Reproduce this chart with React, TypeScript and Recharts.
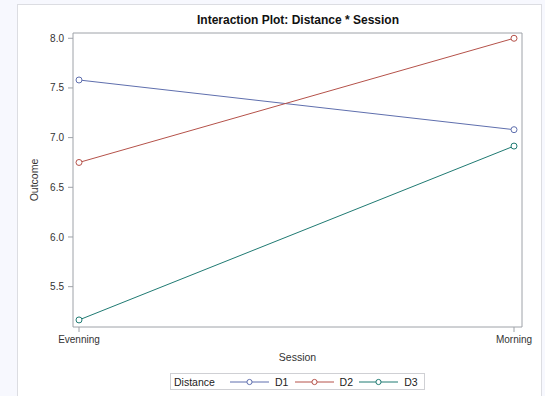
import React from 'react';
import { LineChart, Line, XAxis, YAxis } from 'recharts';

// Session levels on the x axis
const sessions = ['Evenning', 'Morning'];
// Mean outcome per distance group, in session order
const d1 = [7.58, 7.08];
const d2 = [6.75, 8.0];
const d3 = [5.165, 6.915];
const yTicks = [5.5, 6.0, 6.5, 7.0, 7.5, 8.0];

const series = [
  { key: 'D1', values: d1, color: '#5f6fae' },
  { key: 'D2', values: d2, color: '#b5524a' },
  { key: 'D3', values: d3, color: '#1f7a72' },
];

const data = sessions.map((s, i) => ({
  session: s,
  D1: d1[i],
  D2: d2[i],
  D3: d3[i],
}));

const FONT = '"Liberation Sans", Arial, sans-serif';
const AXIS = '#9ea2a8';
const Y_DOMAIN: [number, number] = [5.094, 8.053];

const LegendSwatch = ({ color }: { color: string }) => (
  <svg width={39} height={10} style={{ display: 'block' }}>
    <line x1={0} y1={5} x2={39} y2={5} stroke={color} strokeWidth={1} />
    <circle cx={19.5} cy={5} r={2.6} fill="#fff" stroke={color} strokeWidth={1} />
  </svg>
);

const OutcomeLabel = (props: any) => {
  const vb = props.viewBox || {};
  const cx = 34;
  const cy = vb.y + vb.height / 2;
  return (
    <text
      x={cx}
      y={cy}
      transform={`rotate(-90 ${cx} ${cy})`}
      textAnchor="middle"
      dominantBaseline="central"
      fontSize={10.5}
      fill="#333"
      fontFamily={FONT}
    >
      Outcome
    </text>
  );
};

const SessionLabel = (props: any) => {
  const vb = props.viewBox || {};
  return (
    <text
      x={vb.x + vb.width / 2}
      y={361}
      textAnchor="middle"
      fontSize={10.5}
      fill="#333"
      fontFamily={FONT}
    >
      Session
    </text>
  );
};

export default function App() {
  return (
    <div
      style={{
        position: 'absolute',
        left: 0,
        top: 0,
        width: 545,
        height: 396,
        background: '#f7f8fe',
        overflow: 'hidden',
        fontFamily: FONT,
      }}
    >
      <div
        style={{
          position: 'absolute',
          left: 17,
          top: 4,
          width: 525,
          height: 400,
          background: '#fff',
          border: '1px solid #dcdde2',
          boxSizing: 'border-box',
        }}
      />
      <div
        style={{
          position: 'absolute',
          left: 0,
          top: 13,
          width: 545,
          textAlign: 'center',
          paddingLeft: 51,
          boxSizing: 'border-box',
          fontSize: 12,
          fontWeight: 'bold',
          color: '#111',
          lineHeight: '14px',
        }}
      >
        Interaction Plot: Distance * Session
      </div>
      <div style={{ position: 'absolute', left: 0, top: 0 }}>
        <LineChart
          width={545}
          height={396}
          data={data}
          margin={{ top: 32, right: 22, bottom: 39, left: 33 }}
        >
          <XAxis
            dataKey="session"
            xAxisId="bottom"
            height={30}
            padding={{ left: 6, right: 8 }}
            axisLine={{ stroke: AXIS }}
            tickLine={{ stroke: AXIS }}
            tickSize={5}
            tickMargin={4}
            tick={{ fontSize: 10, fill: '#333', fontFamily: FONT }}
            label={<SessionLabel />}
          />
          <XAxis
            dataKey="session"
            xAxisId="top"
            orientation="top"
            height={1}
            padding={{ left: 6, right: 8 }}
            axisLine={{ stroke: AXIS }}
            tick={false}
            tickLine={false}
          />
          <YAxis
            yAxisId="left"
            width={40}
            type="number"
            domain={Y_DOMAIN}
            ticks={yTicks}
            allowDataOverflow
            axisLine={{ stroke: AXIS }}
            tickLine={{ stroke: AXIS }}
            tickSize={5}
            tickMargin={4}
            tickFormatter={(v: number) => v.toFixed(1)}
            tick={{ fontSize: 10, fill: '#333', fontFamily: FONT }}
            label={<OutcomeLabel />}
          />
          <YAxis
            yAxisId="right"
            orientation="right"
            width={1}
            type="number"
            domain={Y_DOMAIN}
            allowDataOverflow
            axisLine={{ stroke: AXIS }}
            tick={false}
            tickLine={false}
          />
          {series.map((s) => (
            <Line
              key={s.key}
              xAxisId="bottom"
              yAxisId="left"
              dataKey={s.key}
              stroke={s.color}
              strokeWidth={1}
              dot={{ r: 3, fill: '#fff', stroke: s.color, strokeWidth: 1 }}
              activeDot={false}
              isAnimationActive={false}
            />
          ))}
        </LineChart>
      </div>
      <div
        style={{
          position: 'absolute',
          left: 170,
          top: 373,
          width: 255,
          height: 17,
          border: '1px solid #cfd0d4',
          boxSizing: 'border-box',
          background: '#fff',
          display: 'flex',
          alignItems: 'center',
          fontSize: 10.5,
          color: '#222',
          whiteSpace: 'nowrap',
        }}
      >
        <span style={{ marginLeft: 3, width: 57, display: 'inline-block' }}>Distance</span>
        {series.map((s) => (
          <span key={s.key} style={{ display: 'flex', alignItems: 'center', width: 66 }}>
            <LegendSwatch color={s.color} />
            <span style={{ marginLeft: 6 }}>{s.key}</span>
          </span>
        ))}
      </div>
    </div>
  );
}
